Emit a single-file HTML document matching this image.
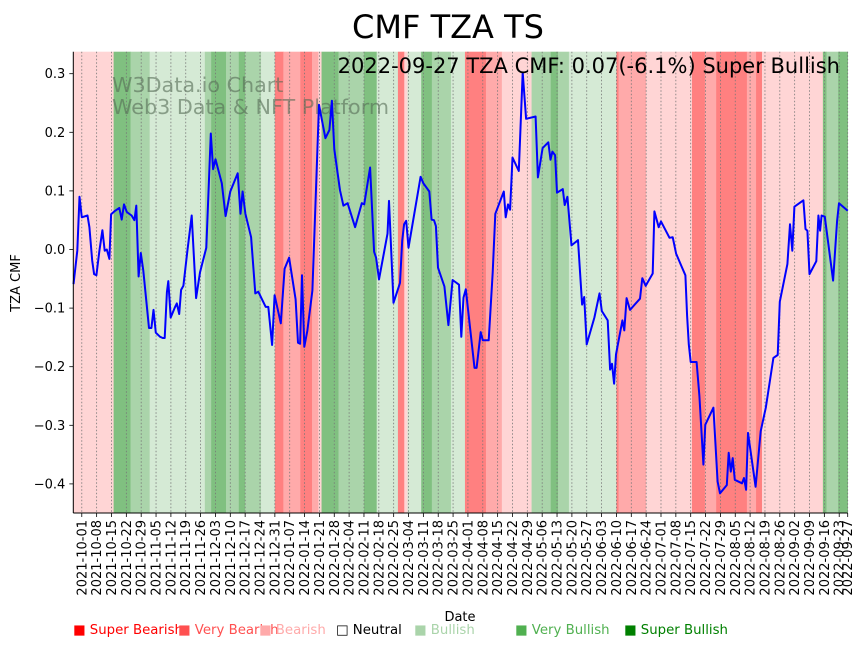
<!DOCTYPE html>
<html><head><meta charset="utf-8"><style>
body{margin:0;background:#fff;}
svg text{font-family:"DejaVu Sans","Liberation Sans",sans-serif;}
</style></head><body>
<svg id="chart" width="867" height="646" xmlns="http://www.w3.org/2000/svg">
<text x="448" y="38" font-size="32" text-anchor="middle">CMF TZA TS</text>
<g id="bands"></g>
<g id="grid"></g>
<text x="112" y="92" font-size="20.7" fill="#556b55" fill-opacity="0.6">W3Data.io Chart</text>
<text x="112" y="114" font-size="20.7" fill="#556b55" fill-opacity="0.6">Web3 Data &amp; NFT Platform</text>
<polyline id="line" fill="none" stroke="#0000ff" stroke-width="2" stroke-linejoin="round"/>
<text x="840" y="73" font-size="21" text-anchor="end">2022-09-27 TZA CMF: 0.07(-6.1%) Super Bullish</text>
<g id="axes"></g>
<text transform="translate(20,283) rotate(-90)" font-size="13" text-anchor="middle">TZA CMF</text>
<text x="460" y="621" font-size="13" text-anchor="middle">Date</text>
<g id="legend"></g>
</svg>
<script>
const bandStarts=[-4,15,23,32,58,61,68,74,77,84.5,91,95,103,108.5,111.5,113,121,133,139,149,152,153.5,160,165,174,180.6,190.5,198,212,221,224.5,229.6,252,253,266,287.6,293.7,299,305,313.5,317.8,320.6,349.3,351,356.5];
const bandCats=[2,6,5,4,5,6,5,6,5,4,0,1,0,1,2,6,5,6,4,0,2,4,6,5,4,0,1,2,5,6,5,4,0,1,2,0,1,0,0,1,0,2,6,5,6];
const dayOffsets=[-3.9,-2.1,-1.1,0,2.7,3.6,4.9,5.8,6.9,8.3,9.7,10.8,11.8,13,13.8,15.7,17.7,18.8,19.9,21.2,23.5,24.8,25.7,26.8,27.8,29,31.7,32.8,33.8,34.9,36.9,38.2,39.1,40.1,40.8,41.9,44,44.8,45.9,46.8,47.9,49.8,51.8,53.9,55.7,58.7,60.8,61.9,63,66,67.8,70,73.5,74.8,75.8,77.1,79.8,81.8,83.2,86.7,87.9,89.7,90.9,93.8,95.6,97.7,100.8,101.9,102.9,103.8,104.9,106.3,108.7,111.8,114.8,116.7,117.9,119,121.7,123.3,125.3,128.8,132,133.1,135.9,137.8,138.7,140.1,144.1,144.8,146.9,150,151,151.9,152.9,154,159.7,161,163.8,164.9,166,166.9,167.9,170.9,172.8,174.8,177.8,178.9,179.9,181,185.1,186.1,188,189,191.8,193.7,194.9,198.9,199.8,200.9,201.9,203,206,207.8,209.4,213.9,215,217.2,219.9,220.9,221.8,223.1,224,226.7,227.6,228.9,230.8,233.9,235.8,236.8,238,241.6,244,245.1,247.9,249,249.9,250.9,251.8,254.8,255.7,256.8,258.4,263.1,264.2,265.8,269.1,269.9,271.9,273,277,278.5,280.1,282.7,284.5,285.3,286.1,287,289.8,291.1,293,293.9,297.7,299.7,300.8,304,304.9,305.9,306.8,307.8,311.2,312.1,313.1,314,317.6,320,322.4,326,328,329,332.6,333.8,334.9,335.9,340.1,341.1,342,343,346.2,347.2,348,348.7,350.2,354.1,356,356.9,361];
const cmfValues=[-0.059,-0.002,0.09,0.055,0.058,0.038,-0.019,-0.042,-0.044,-0.002,0.033,-0.002,0,-0.016,0.06,0.066,0.071,0.051,0.077,0.064,0.058,0.05,0.075,-0.046,-0.006,-0.036,-0.134,-0.134,-0.103,-0.142,-0.149,-0.151,-0.151,-0.073,-0.054,-0.116,-0.098,-0.092,-0.11,-0.069,-0.062,-0.002,0.058,-0.083,-0.039,0.003,0.198,0.137,0.154,0.113,0.057,0.099,0.13,0.061,0.099,0.061,0.021,-0.075,-0.072,-0.098,-0.098,-0.163,-0.078,-0.126,-0.033,-0.014,-0.085,-0.159,-0.161,-0.044,-0.166,-0.139,-0.07,0.247,0.19,0.204,0.254,0.171,0.101,0.075,0.079,0.038,0.079,0.077,0.14,-0.004,-0.014,-0.051,0.027,0.083,-0.091,-0.057,0.015,0.043,0.049,0.003,0.124,0.113,0.099,0.051,0.05,0.04,-0.031,-0.063,-0.129,-0.052,-0.06,-0.149,-0.082,-0.068,-0.202,-0.202,-0.141,-0.155,-0.155,-0.039,0.061,0.099,0.055,0.077,0.068,0.157,0.134,0.302,0.223,0.227,0.123,0.173,0.183,0.153,0.167,0.161,0.097,0.103,0.076,0.09,0.007,0.016,-0.094,-0.081,-0.162,-0.116,-0.075,-0.105,-0.121,-0.205,-0.195,-0.229,-0.179,-0.121,-0.138,-0.083,-0.103,-0.084,-0.049,-0.062,-0.041,0.065,0.038,0.048,0.02,0.021,-0.007,-0.029,-0.044,-0.113,-0.162,-0.192,-0.192,-0.25,-0.367,-0.299,-0.27,-0.396,-0.416,-0.402,-0.347,-0.379,-0.356,-0.393,-0.399,-0.39,-0.41,-0.313,-0.405,-0.31,-0.27,-0.185,-0.18,-0.089,-0.025,0.043,-0.002,0.073,0.084,0.035,0.032,-0.042,-0.02,0.058,0.032,0.058,0.056,-0.053,0.049,0.079,0.066];
const yTickValues=[0.3,0.2,0.1,0.0,-0.1,-0.2,-0.3,-0.4];
const yTickLabels=["0.3","0.2","0.1","0.0","\u22120.1","\u22120.2","\u22120.3","\u22120.4"];
const legendLabels=["Super Bearish","Very Bearish","Bearish","Neutral","Bullish","Very Bullish","Super Bullish"];

const NS="http://www.w3.org/2000/svg";
const X0=73.3,X1=847.7,Y0=51.7,Y1=513;
const dMin=-4,dMax=361,vZero=249.5,vScale=586;
function xs(d){return X0+(d-dMin)/(dMax-dMin)*(X1-X0);}
function ys(v){return vZero-v*vScale;}
const bandColors=["#ff8080","#ffaaaa","#ffd5d5","#ffffff","#d5ead5","#aad4aa","#80c080"];
const legendColors=["#ff0000","#ff5050","#ffaaaa","#000000","#aad4aa","#50b050","#008000"];
const legendX=[73,178,259,336,414,515,624];
function mk(tag,attrs,parent){const e=document.createElementNS(NS,tag);for(const k in attrs)e.setAttribute(k,attrs[k]);parent.appendChild(e);return e;}

const bands=document.getElementById('bands');
for(let i=0;i<bandStarts.length;i++){
  const a=xs(bandStarts[i]),b=xs(i+1<bandStarts.length?bandStarts[i+1]:dMax);
  const r=mk('rect',{x:a,y:Y0,width:b-a+0.3,height:Y1-Y0,fill:bandColors[bandCats[i]]},bands);
  
  
}
const t0=new Date(Date.UTC(2021,9,1));
function dateLabel(d){const t=new Date(t0.getTime()+d*86400000);return t.toISOString().slice(0,10);}
const tickDays=[];for(let d=0;d<=357;d+=7)tickDays.push(d);tickDays.push(361);
const grid=document.getElementById('grid'),axes=document.getElementById('axes');
tickDays.forEach(d=>{
  const x=xs(d);
  const g=mk('line',{x1:x,x2:x,y1:Y0,y2:Y1,stroke:'#777','stroke-width':0.8,'stroke-dasharray':'1.5,2'},grid);
  
  
  const tk=mk('line',{x1:x,x2:x,y1:Y1,y2:Y1+4,stroke:'#000','stroke-width':0.8},axes);
  
  
  const tx=mk('text',{transform:`translate(${x+4.5},${Y1+7}) rotate(-90)`,'font-size':13,'text-anchor':'end'},axes);
  tx.textContent=dateLabel(d);
  
  
});
yTickValues.forEach((v,i)=>{
  const y=ys(v);
  const tk=mk('line',{x1:X0-4,x2:X0,y1:y,y2:y,stroke:'#000','stroke-width':0.8},axes);
  
  
  const tx=mk('text',{x:X0-8,y:y+4.5,'font-size':13,'text-anchor':'end'},axes);
  tx.textContent=yTickLabels[i];
  
  
});
const ls=mk('line',{x1:X0,x2:X0,y1:Y0,y2:Y1,stroke:'#000','stroke-width':1},axes);


const bs=mk('line',{x1:X0,x2:X1,y1:Y1,y2:Y1,stroke:'#000','stroke-width':1},axes);



document.getElementById('line').setAttribute('points',dayOffsets.map((d,i)=>xs(d).toFixed(1)+','+ys(cmfValues[i]).toFixed(1)).join(' '));

const leg=document.getElementById('legend');
legendLabels.forEach((l,i)=>{
  const t=mk('text',{x:legendX[i],y:634,'font-size':13.3,fill:legendColors[i]},leg);
  t.textContent=(i===3?'\u25A1 ':'\u25A0 ')+l;
  
  
});
</script>
</body></html>
